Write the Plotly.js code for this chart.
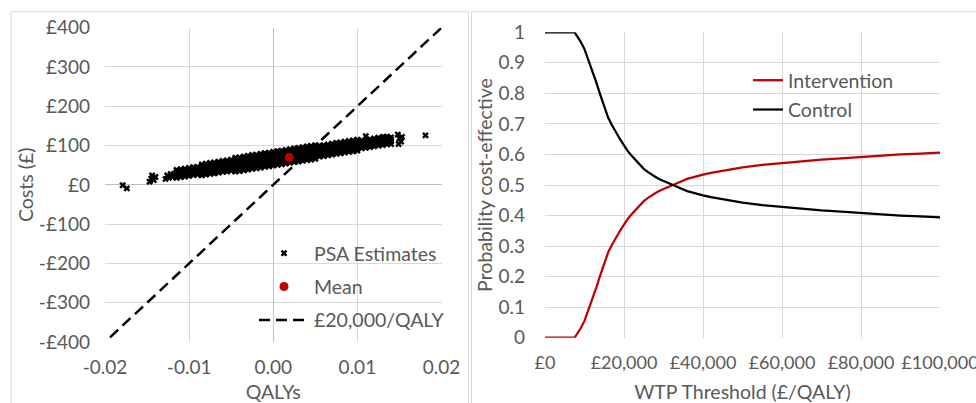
<!DOCTYPE html>
<html>
<head>
<meta charset="utf-8">
<script src="https://cdn.plot.ly/plotly-3.0.1.min.js"></script>
<style>
html,body{margin:0;padding:0;background:#fff;}
#chart{width:976px;height:403px;}
</style>
</head>
<body>
<div id="chart"></div>
<script>
// ---------- Cost-effectiveness plane (PSA) ----------
const psaQaly = [
  -0.0179,-0.0174,
  -0.0147,-0.0145,-0.0142,-0.0140,-0.0144,
  -0.0128,-0.0126,-0.0124,-0.0122,-0.0120,-0.0118,
  -0.0115,-0.0115,-0.0115,-0.0115,
  -0.0110,-0.0110,-0.0110,-0.0110,
  -0.0105,-0.0105,-0.0105,-0.0105,
  -0.0100,-0.0100,-0.0100,-0.0100,
  -0.0095,-0.0095,-0.0095,-0.0095,
  -0.0090,-0.0090,-0.0090,-0.0090,
  -0.0085,-0.0085,-0.0085,-0.0085,-0.0085,
  -0.0080,-0.0080,-0.0080,-0.0080,-0.0080,
  -0.0075,-0.0075,-0.0075,-0.0075,-0.0075,
  -0.0070,-0.0070,-0.0070,-0.0070,-0.0070,
  -0.0065,-0.0065,-0.0065,-0.0065,-0.0065,
  -0.0060,-0.0060,-0.0060,-0.0060,-0.0060,
  -0.0055,-0.0055,-0.0055,-0.0055,-0.0055,
  -0.0050,-0.0050,-0.0050,-0.0050,-0.0050,
  -0.0045,-0.0045,-0.0045,-0.0045,-0.0045,-0.0045,
  -0.0040,-0.0040,-0.0040,-0.0040,-0.0040,-0.0040,
  -0.0035,-0.0035,-0.0035,-0.0035,-0.0035,-0.0035,
  -0.0030,-0.0030,-0.0030,-0.0030,-0.0030,-0.0030,
  -0.0025,-0.0025,-0.0025,-0.0025,-0.0025,-0.0025,
  -0.0020,-0.0020,-0.0020,-0.0020,-0.0020,-0.0020,
  -0.0015,-0.0015,-0.0015,-0.0015,-0.0015,-0.0015,
  -0.0010,-0.0010,-0.0010,-0.0010,-0.0010,-0.0010,
  -0.0005,-0.0005,-0.0005,-0.0005,-0.0005,-0.0005,
  0.0000,0.0000,0.0000,0.0000,0.0000,0.0000,
  0.0005,0.0005,0.0005,0.0005,0.0005,0.0005,
  0.0010,0.0010,0.0010,0.0010,0.0010,0.0010,
  0.0015,0.0015,0.0015,0.0015,0.0015,0.0015,
  0.0020,0.0020,0.0020,0.0020,0.0020,0.0020,
  0.0025,0.0025,0.0025,0.0025,0.0025,0.0025,
  0.0030,0.0030,0.0030,0.0030,0.0030,0.0030,
  0.0035,0.0035,0.0035,0.0035,0.0035,0.0035,
  0.0040,0.0040,0.0040,0.0040,0.0040,0.0040,
  0.0045,0.0045,0.0045,0.0045,0.0045,0.0045,
  0.0050,0.0050,0.0050,0.0050,0.0050,0.0050,
  0.0055,0.0055,0.0055,0.0055,0.0055,
  0.0060,0.0060,0.0060,0.0060,0.0060,
  0.0065,0.0065,0.0065,0.0065,0.0065,
  0.0070,0.0070,0.0070,0.0070,0.0070,
  0.0075,0.0075,0.0075,0.0075,0.0075,
  0.0080,0.0080,0.0080,0.0080,0.0080,
  0.0085,0.0085,0.0085,0.0085,0.0085,
  0.0090,0.0090,0.0090,0.0090,0.0090,
  0.0095,0.0095,0.0095,0.0095,0.0095,
  0.0100,0.0100,0.0100,0.0100,0.0100,
  0.0105,0.0105,0.0105,0.0105,
  0.0110,0.0110,0.0110,0.0110,
  0.0115,0.0115,0.0115,0.0115,
  0.0120,0.0120,0.0120,0.0120,
  0.0125,0.0125,0.0125,0.0125,
  0.0130,0.0130,0.0130,0.0130,
  0.0135,0.0135,0.0135,0.0135,
  0.0140,0.0140,0.0140,0.0140,
  0.0110,0.0131,
  0.0148,0.0150,0.0152,0.0149,0.0153,
  0.0181
];
const psaCost = [
  -1,-9,
  8,16,12,20,24,
  15,24,18,28,20,26,
  18,25,32,38,
  20,27,34,40,
  21,28,35,41,
  23,30,37,43,
  25,32,39,45,
  26,33,40,46,
  24,31,38,45,52,
  26,33,40,47,54,
  28,35,42,49,56,
  29,36,43,50,57,
  31,38,45,52,59,
  33,40,47,54,61,
  34,41,48,55,62,
  36,43,50,57,64,
  34,41,48,55,62,69,
  35,42,49,56,63,70,
  37,44,51,58,65,72,
  39,46,53,60,67,74,
  41,48,55,62,69,76,
  42,49,56,63,70,77,
  44,51,58,65,72,79,
  46,53,60,67,74,81,
  47,54,61,68,75,82,
  49,56,63,70,77,84,
  51,58,65,72,79,86,
  52,59,66,73,80,87,
  54,61,68,75,82,89,
  56,63,70,77,84,91,
  58,65,72,79,86,93,
  59,66,73,80,87,94,
  61,68,75,82,89,96,
  63,70,77,84,91,98,
  64,71,78,85,92,99,
  66,73,80,87,94,101,
  72,79,86,93,100,
  73,80,87,94,101,
  75,82,89,96,103,
  77,84,91,98,105,
  79,86,93,100,107,
  80,87,94,101,108,
  82,89,96,103,110,
  84,91,98,105,112,
  85,92,99,106,113,
  87,94,101,108,115,
  93,100,107,113,
  94,101,108,114,
  96,103,110,116,
  98,105,112,118,
  100,107,114,120,
  101,108,115,121,
  103,110,117,123,
  104,110,116,121,
  124,122,
  128,118,110,104,122,
  126
];
const meanQaly = [0.0019];
const meanCost = [70];
const thresholdQaly = [-0.0194, 0.02];
const thresholdCost = [-388, 400];

const qalyTicks = [-0.02, -0.01, 0, 0.01, 0.02];
const qalyTickText = ['-0.02', '-0.01', '0.00', '0.01', '0.02'];
const costTicks = [-400, -300, -200, -100, 0, 100, 200, 300, 400];
const costTickText = ['-£400', '-£300', '-£200', '-£100', '£0', '£100', '£200', '£300', '£400'];

// ---------- CEAC ----------
const wtp = [0, 2000, 4000, 6000, 7500, 8000, 9000, 10000, 11000, 12000, 13000, 14000, 15000,
  16000, 17000, 18000, 19000, 20000, 21000, 22000, 23000, 24000, 25000, 26000, 27000, 28000,
  29000, 30000, 32000, 34000, 36000, 38000, 40000, 42000, 44000, 46000, 48000, 50000, 55000,
  60000, 65000, 70000, 75000, 80000, 85000, 90000, 95000, 100000];
const probIntervention = [0, 0, 0, 0, 0, 0.01, 0.03, 0.055, 0.09, 0.13, 0.165, 0.205, 0.245,
  0.28, 0.305, 0.33, 0.35, 0.37, 0.39, 0.405, 0.42, 0.435, 0.447, 0.457, 0.466, 0.474,
  0.481, 0.487, 0.498, 0.509, 0.52, 0.528, 0.534, 0.54, 0.545, 0.55, 0.554, 0.558, 0.566,
  0.572, 0.578, 0.583, 0.587, 0.592, 0.596, 0.6, 0.603, 0.606];
const probControl = [1, 1, 1, 1, 1, 0.99, 0.97, 0.945, 0.91, 0.87, 0.835, 0.795, 0.755,
  0.72, 0.695, 0.67, 0.65, 0.63, 0.61, 0.595, 0.58, 0.565, 0.553, 0.543, 0.534, 0.526,
  0.519, 0.513, 0.502, 0.491, 0.48, 0.472, 0.466, 0.46, 0.455, 0.45, 0.446, 0.442, 0.434,
  0.428, 0.422, 0.417, 0.413, 0.408, 0.404, 0.4, 0.397, 0.394];

const wtpTicks = [0, 20000, 40000, 60000, 80000, 100000];
const wtpTickText = ['£0', '£20,000', '£40,000', '£60,000', '£80,000', '£100,000'];
const probTicks = [0, 0.1, 0.2, 0.3, 0.4, 0.5, 0.6, 0.7, 0.8, 0.9, 1];
const probTickText = ['0', '0.1', '0.2', '0.3', '0.4', '0.5', '0.6', '0.7', '0.8', '0.9', '1'];

const FONT = 'Lato, "Open Sans", sans-serif';
const TXT = '#595959';
const GRID = '#d9d9d9';
const RED = '#c00000';
const TICK_SIZE = 19;
const LABEL_SIZE = 19.5;

const traces = [
  {x: psaQaly, y: psaCost, type: 'scatter', mode: 'markers', name: 'PSA Estimates',
   marker: {symbol: 'x', size: 6, color: '#000000', line: {width: 0}},
   xaxis: 'x', yaxis: 'y', legend: 'legend', legendgroup: 'a'},
  {x: meanQaly, y: meanCost, type: 'scatter', mode: 'markers', name: 'Mean',
   marker: {symbol: 'circle', size: 9, color: RED},
   xaxis: 'x', yaxis: 'y', legend: 'legend', legendgroup: 'b'},
  {x: thresholdQaly, y: thresholdCost, type: 'scatter', mode: 'lines', name: '£20,000/QALY',
   line: {color: '#000000', width: 2.5, dash: '11px,6px'},
   xaxis: 'x', yaxis: 'y', legend: 'legend', legendgroup: 'c'},
  {x: wtp, y: probIntervention, type: 'scatter', mode: 'lines', name: 'Intervention',
   line: {color: RED, width: 2.25},
   xaxis: 'x2', yaxis: 'y2', legend: 'legend2', legendgroup: 'd'},
  {x: wtp, y: probControl, type: 'scatter', mode: 'lines', name: 'Control',
   line: {color: '#000000', width: 2.25},
   xaxis: 'x2', yaxis: 'y2', legend: 'legend2', legendgroup: 'e'}
];

const axisCommon = {
  showgrid: true, gridcolor: GRID, gridwidth: 1,
  zeroline: false, showline: false, ticks: '',
  tickfont: {family: FONT, size: TICK_SIZE, color: TXT},
  ticklabeloverflow: 'allow',
  automargin: false, fixedrange: true
};

const layout = {
  width: 976, height: 403,
  margin: {l: 0, r: 0, t: 0, b: 0},
  paper_bgcolor: '#ffffff', plot_bgcolor: '#ffffff',
  font: {family: FONT, color: TXT},
  showlegend: true,
  xaxis: Object.assign({}, axisCommon, {
    domain: [105/976, 441.5/976], range: [-0.02, 0.02],
    tickmode: 'array', tickvals: qalyTicks, ticktext: qalyTickText,
    zeroline: true, zerolinecolor: '#bfbfbf', zerolinewidth: 1,
    ticklabelstandoff: 12,
    title: {text: 'QALYs', font: {family: FONT, size: LABEL_SIZE, color: TXT}, standoff: 12},
    anchor: 'y'
  }),
  yaxis: Object.assign({}, axisCommon, {
    domain: [1 - 342/403, 1 - 27.7/403], range: [-400, 400],
    tickmode: 'array', tickvals: costTicks, ticktext: costTickText,
    zeroline: true, zerolinecolor: '#bfbfbf', zerolinewidth: 1,
    ticklabelstandoff: 14,
    title: {text: 'Costs (£)', font: {family: FONT, size: LABEL_SIZE, color: TXT}, standoff: 0},
    anchor: 'x'
  }),
  xaxis2: Object.assign({}, axisCommon, {
    domain: [545/976, 940/976], range: [0, 100000],
    tickmode: 'array', tickvals: wtpTicks, ticktext: wtpTickText,
    tickfont: {family: FONT, size: 18, color: TXT},
    ticklabelstandoff: 12,
    title: {text: 'WTP Threshold (£/QALY)', font: {family: FONT, size: LABEL_SIZE, color: TXT}, standoff: 13},
    anchor: 'y2'
  }),
  yaxis2: Object.assign({}, axisCommon, {
    domain: [1 - 337.7/403, 1 - 32.3/403], range: [0, 1],
    tickmode: 'array', tickvals: probTicks, ticktext: probTickText,
    ticklabelstandoff: 19,
    title: {text: 'Probability cost-effective', font: {family: FONT, size: LABEL_SIZE, color: TXT}, standoff: 0},
    anchor: 'x2'
  }),
  legend: {
    x: 254/976, y: 1 - 234/403, xanchor: 'left', yanchor: 'top',
    bgcolor: 'rgba(255,255,255,0)', borderwidth: 0,
    font: {family: FONT, size: LABEL_SIZE, color: TXT},
    traceorder: 'grouped', tracegroupgap: 5, itemwidth: 50
  },
  legend2: {
    x: 748/976, y: 1 - 61/403, xanchor: 'left', yanchor: 'top',
    bgcolor: 'rgba(255,255,255,0)', borderwidth: 0,
    font: {family: FONT, size: LABEL_SIZE, color: TXT},
    traceorder: 'grouped', tracegroupgap: 1, itemwidth: 30
  },
  shapes: [
    {type: 'rect', xref: 'paper', yref: 'paper', x0: 11/976, x1: 468.5/976, y0: -0.1, y1: 1 - 11.7/403,
     line: {color: GRID, width: 1}, fillcolor: 'rgba(0,0,0,0)', layer: 'below'},
    {type: 'rect', xref: 'paper', yref: 'paper', x0: 471.5/976, x1: 1.1, y0: -0.1, y1: 1 - 11.7/403,
     line: {color: GRID, width: 1}, fillcolor: 'rgba(0,0,0,0)', layer: 'below'}
  ]
};

Plotly.newPlot('chart', traces, layout, {staticPlot: true, displayModeBar: false});
</script>
</body>
</html>
